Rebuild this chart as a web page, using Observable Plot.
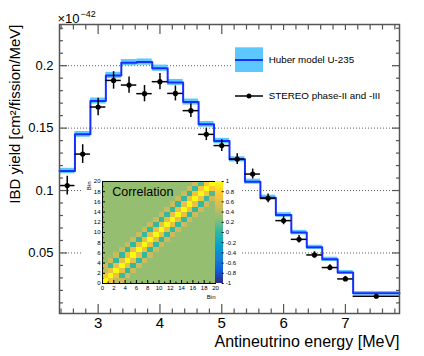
<!DOCTYPE html>
<html><head><meta charset="utf-8">
<script src="https://cdn.jsdelivr.net/npm/d3@7"></script>
<script src="https://cdn.jsdelivr.net/npm/@observablehq/plot@0.6"></script>
<style>
body{margin:0;background:#fff;}
#wrap{position:relative;width:424px;height:356px;font-family:"Liberation Sans",Arial,sans-serif;}
#wrap > div{position:absolute;}
</style></head><body><div id="wrap"></div>
<script>
// ---- data ----
const binLow  = [2.375,2.625,2.875,3.125,3.375,3.625,3.875,4.125,4.375,4.625,4.875,5.125,5.375,5.625,5.875,6.125,6.375,6.625,6.875,7.125];
const binHigh = [2.625,2.875,3.125,3.375,3.625,3.875,4.125,4.375,4.625,4.875,5.125,5.375,5.625,5.875,6.125,6.375,6.625,6.875,7.125,7.875];
const huber    = [0.1156,0.1450,0.1717,0.1922,0.2024,0.2029,0.1980,0.1866,0.1709,0.1530,0.1396,0.1250,0.1071,0.0943,0.0804,0.0663,0.0545,0.0449,0.0343,0.0177];
const huberErr = [0.0022,0.0023,0.0024,0.0025,0.0025,0.0025,0.0025,0.0024,0.0024,0.0023,0.0022,0.0021,0.0020,0.0020,0.0019,0.0018,0.0017,0.0017,0.0016,0.0014];
const stereo    = [0.1040,0.1292,0.1669,0.1882,0.1845,0.1776,0.1872,0.1778,0.1640,0.1450,0.1360,0.1252,0.1132,0.0938,0.0759,0.0609,0.0484,0.0383,0.0292,0.0153];
const stereoErr = [0.0075,0.0075,0.0070,0.0070,0.0065,0.0065,0.0065,0.0060,0.0055,0.0050,0.0047,0.0043,0.0040,0.0035,0.0033,0.0030,0.0026,0.0022,0.0020,0.0013];
const xMajor = [3,4,5,6,7];
const xMinor = [2.4,2.6,2.8,3.2,3.4,3.6,3.8,4.2,4.4,4.6,4.8,5.2,5.4,5.6,5.8,6.2,6.4,6.6,6.8,7.2,7.4,7.6,7.8];
const yMajor = [0.05,0.1,0.15,0.2];
const yMinor = [0.01,0.02,0.03,0.04,0.06,0.07,0.08,0.09,0.11,0.12,0.13,0.14,0.16,0.17,0.18,0.19,0.21,0.22,0.23];
// correlation matrix, by distance from the diagonal
const corrDiag = [1,1,1,1,1,1,1,1,1,1,1,1,1,1,1,1,1,1,1,1];
const corrOff1 = [0.7,0.64,0.62,0.62,0.62,0.62,0.62,0.62,0.62,0.62,0.62,0.62,0.62,0.62,0.64,0.64,0.66,0.7,0.74];
const corrOff2 = [0.45,0.05,0.02,0.02,0.02,0.02,0.02,0.02,0.02,0.02,0.02,0.02,0.02,0.02,0.02,0.02,0.04,0.1];
const corrOff3 = [0.5,0.5,0.48,0.48,0.48,0.48,0.48,0.48,0.48,0.48,0.48,0.48,0.48,0.48,0.48,0.5,0.5];
const corrFar = 0.3;
const binTicks = [0,2,4,6,8,10,12,14,16,18,20];
const binMinor = [1,3,5,7,9,11,13,15,17,19];
const cbTicks = [-1,-0.8,-0.6,-0.4,-0.2,0,0.2,0.4,0.6,0.8,1];
const birdStops = [-1,-0.75,-0.5,-0.25,0,0.25,0.5,0.75,1];
const birdColors = ["rgb(53,42,135)","rgb(15,92,221)","rgb(20,129,214)","rgb(6,164,202)","rgb(46,183,164)","rgb(135,191,119)","rgb(209,187,89)","rgb(254,200,50)","rgb(249,251,14)"];

const FONT = "Liberation Sans, Arial, Helvetica, sans-serif";
const wrap = document.getElementById("wrap");

const bins = binLow.map((lo,i)=>({lo, hi:binHigh[i], mid:(lo+binHigh[i])/2, h:huber[i], he:huberErr[i], s:stereo[i], se:stereoErr[i]}));
const steps = [...bins.map(b=>({x:b.lo,y:b.h})), {x:binHigh[binHigh.length-1], y:huber[huber.length-1]}];
const blank = () => "";
const tickStroke = "#555";

const main = Plot.plot({
  width:424, height:356, marginLeft:59, marginRight:25, marginTop:24, marginBottom:43,
  style:{fontFamily:FONT, color:"black", background:"white", overflow:"visible"},
  x:{domain:[2.375,7.875], label:null}, y:{domain:[0.0015,0.233], label:null},
  marks:[
    Plot.ruleY(yMajor,{stroke:"#333",strokeWidth:0.8,strokeDasharray:"1,2"}),
    Plot.rect(bins,{x1:"lo",x2:"hi",y1:d=>d.h-d.he,y2:d=>d.h+d.he,fill:"#5cc8ff"}),
    Plot.line(steps,{x:"x",y:"y",curve:"step-after",stroke:"#1430ff",strokeWidth:2}),
    Plot.ruleY(bins,{y:"s",x1:"lo",x2:"hi",stroke:"black",strokeWidth:1.5}),
    Plot.ruleX(bins,{x:"mid",y1:d=>d.s-d.se,y2:d=>d.s+d.se,stroke:"black",strokeWidth:1.5}),
    Plot.dot(bins,{x:"mid",y:"s",r:2.6,fill:"black"}),
    Plot.frame({stroke:tickStroke,strokeWidth:1.5}),
    Plot.axisX(xMajor,{anchor:"bottom",tickSize:0,tickPadding:4,fontSize:15,tickFormat:d=>String(d),label:null}),
    Plot.axisX(xMajor,{anchor:"bottom",tickSize:-9,tickFormat:blank,stroke:tickStroke,strokeWidth:1.2,label:null}),
    Plot.axisX(xMinor,{anchor:"bottom",tickSize:-4.5,tickFormat:blank,stroke:tickStroke,strokeWidth:1.2,label:null}),
    Plot.axisX(xMajor,{anchor:"top",tickSize:-9,tickFormat:blank,stroke:tickStroke,strokeWidth:1.2,label:null}),
    Plot.axisX(xMinor,{anchor:"top",tickSize:-4.5,tickFormat:blank,stroke:tickStroke,strokeWidth:1.2,label:null}),
    Plot.axisY(yMajor,{anchor:"left",tickSize:0,tickPadding:6,fontSize:13,tickFormat:d=>String(d),label:null}),
    Plot.axisY(yMajor,{anchor:"left",tickSize:-8,tickFormat:blank,stroke:tickStroke,strokeWidth:1.2,label:null}),
    Plot.axisY(yMinor,{anchor:"left",tickSize:-4,tickFormat:blank,stroke:tickStroke,strokeWidth:1.2,label:null}),
    Plot.axisY(yMajor,{anchor:"right",tickSize:-8,tickFormat:blank,stroke:tickStroke,strokeWidth:1.2,label:null}),
    Plot.axisY(yMinor,{anchor:"right",tickSize:-4,tickFormat:blank,stroke:tickStroke,strokeWidth:1.2,label:null}),
    Plot.text(["Antineutrino energy [MeV]"],{frameAnchor:"bottom-right",textAnchor:"end",lineAnchor:"middle",dy:28.5,fontSize:16}),
    Plot.text(["IBD yield [cm²/fission/MeV]"],{frameAnchor:"top-left",rotate:-90,textAnchor:"end",lineAnchor:"middle",dx:-44,fontSize:15}),
    Plot.text(["×10"],{frameAnchor:"top-left",textAnchor:"start",lineAnchor:"bottom",dx:-2,dy:-2,fontSize:13}),
    Plot.text(["−42"],{frameAnchor:"top-left",textAnchor:"start",lineAnchor:"bottom",dx:21,dy:-8,fontSize:9})
  ]
});
const mainDiv = document.createElement("div");
mainDiv.style.left="0px"; mainDiv.style.top="0px";
mainDiv.appendChild(main);
wrap.appendChild(mainDiv);

// ---- legend ----
const leg = document.createElement("div");
leg.style.cssText = "left:231px;top:30px;width:160px;height:82px;background:#fff;";
leg.innerHTML = `<svg width="160" height="82" font-family="${FONT}" font-size="9.8">
<rect x="4" y="17.3" width="28" height="24.7" fill="#5cc8ff"/>
<line x1="4" x2="32" y1="30" y2="30" stroke="#1430ff" stroke-width="2"/>
<text x="37.7" y="30" dominant-baseline="middle">Huber model U-235</text>
<line x1="4" x2="32" y1="66" y2="66" stroke="black" stroke-width="1.5"/>
<circle cx="18" cy="66" r="2.5" fill="black"/>
<text x="37.7" y="66" dominant-baseline="middle">STEREO phase-II and -III</text>
</svg>`;
wrap.appendChild(leg);

// ---- inset correlation matrix ----
const cells = [];
for (let j=0;j<20;j++) for (let i=0;i<20;i++){
  const k=Math.abs(i-j), m=Math.min(i,j);
  const v = k===0?corrDiag[i]: k===1?corrOff1[m]: k===2?corrOff2[m]: k===3?corrOff3[m]: corrFar;
  cells.push({i, i2:i+1, j, j2:j+1, v});
}
const colorScale = {type:"linear", domain:birdStops, range:birdColors, interpolate:"rgb"};
const inset = Plot.plot({
  width:158, height:126, marginLeft:20, marginRight:25, marginTop:5, marginBottom:19,
  style:{fontFamily:FONT, color:"black", background:"white", overflow:"visible"},
  x:{domain:[0,20], label:null}, y:{domain:[0,20], label:null},
  color:colorScale,
  marks:[
    Plot.rect(cells,{x1:"i",x2:"i2",y1:"j",y2:"j2",fill:"v",shapeRendering:"crispEdges"}),
    Plot.text(["Correlation"],{frameAnchor:"top-left",dx:9.7,dy:10.3,textAnchor:"start",lineAnchor:"middle",fontSize:12.5}),
    Plot.frame({stroke:"black",strokeWidth:1}),
    Plot.axisX(binTicks,{anchor:"bottom",tickSize:0,tickPadding:2,fontSize:6,label:null}),
    Plot.axisX(binTicks,{anchor:"bottom",tickSize:-3,tickFormat:blank,label:null}),
    Plot.axisX(binMinor,{anchor:"bottom",tickSize:-1.5,tickFormat:blank,label:null}),
    Plot.axisY(binTicks,{anchor:"left",tickSize:0,tickPadding:2,fontSize:6,label:null}),
    Plot.axisY(binTicks,{anchor:"left",tickSize:-3,tickFormat:blank,label:null}),
    Plot.axisY(binMinor,{anchor:"left",tickSize:-1.5,tickFormat:blank,label:null}),
    Plot.text(["Bin"],{frameAnchor:"bottom-right",textAnchor:"end",lineAnchor:"middle",dy:13.5,fontSize:6}),
    Plot.text(["Bin"],{frameAnchor:"top-left",rotate:-90,textAnchor:"end",lineAnchor:"middle",dx:-13,fontSize:6})
  ]
});
const insetDiv = document.createElement("div");
insetDiv.style.cssText = "left:82px;top:176px;background:#fff;";
insetDiv.appendChild(inset);
wrap.appendChild(insetDiv);

// ---- colour bar ----
const cb = d3.range(-1,1,0.02).map(lo=>({lo, hi:lo+0.02, mid:lo+0.01}));
const cbar = Plot.plot({
  width:26, height:126, marginLeft:1, marginRight:17.3, marginTop:5, marginBottom:19,
  style:{fontFamily:FONT, color:"black", background:"transparent", overflow:"visible"},
  x:{domain:[0,1], axis:null}, y:{domain:[-1,1], label:null},
  color:colorScale,
  marks:[
    Plot.rect(cb,{x1:0,x2:1,y1:"lo",y2:"hi",fill:"mid",shapeRendering:"crispEdges"}),
    Plot.axisY(cbTicks,{anchor:"right",tickSize:0,tickPadding:2.5,fontSize:6,tickFormat:d=>String(d),label:null}),
    Plot.axisY(cbTicks,{anchor:"right",tickSize:-2,tickFormat:blank,label:null})
  ]
});
const cbDiv = document.createElement("div");
cbDiv.style.cssText = "left:214px;top:176px;";
cbDiv.appendChild(cbar);
wrap.appendChild(cbDiv);
</script></body></html>
